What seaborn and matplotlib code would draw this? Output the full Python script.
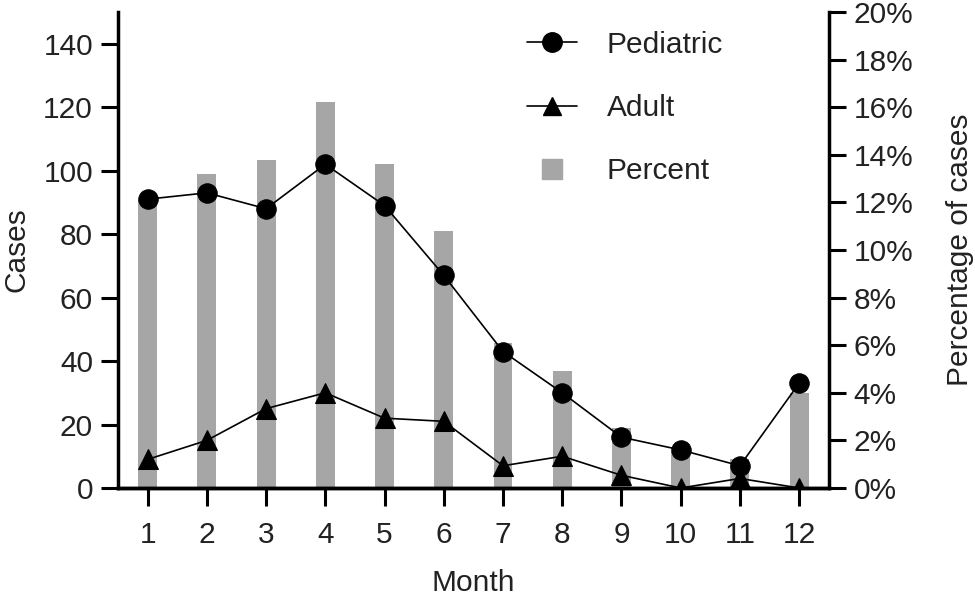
import numpy as np
import pandas as pd
import seaborn as sns
import matplotlib.pyplot as plt
import matplotlib.ticker as tkr
from matplotlib.lines import Line2D

months = [1, 2, 3, 4, 5, 6, 7, 8, 9, 10, 11, 12]
pediatric = [91, 93, 88, 102, 89, 67, 43, 30, 16, 12, 7, 33]
adult = [9, 15, 25, 30, 22, 21, 7, 10, 4, 0, 3, 0]
percent = [12.1, 13.2, 13.8, 16.2, 13.6, 10.8, 6.1, 4.9, 2.5, 1.5, 1.2, 4.0]

sns.set_theme(style='ticks')
plt.rcParams['font.family'] = ['Liberation Sans', 'DejaVu Sans']
txt = '#222222'
bar_color = '#a6a6a6'
fs = 21.5

df = pd.DataFrame({'Month': months, 'Pediatric': pediatric, 'Adult': adult, 'Percent': percent})

fig = plt.figure(figsize=(9.75, 5.97), dpi=100)
ax = fig.add_axes([0.121, 0.1826, 0.729, 0.7974])
ax2 = ax.twinx()

# bars on the right axis, behind the lines
sns.barplot(data=df, x='Month', y='Percent', native_scale=True, color=bar_color,
            width=0.32, saturation=1, ax=ax2, linewidth=0)
ax.set_zorder(ax2.get_zorder() + 1)
ax.patch.set_visible(False)

sns.lineplot(data=df, x='Month', y='Pediatric', ax=ax, color='black', marker='o',
             markersize=14, linewidth=1.2, markeredgecolor='black', label='Pediatric')
sns.lineplot(data=df, x='Month', y='Adult', ax=ax, color='black', marker='^',
             markersize=14, linewidth=1.2, markeredgecolor='black', label='Adult')

ax.set_xlim(0.5, 12.5)
ax.set_ylim(0, 150)
ax.set_yticks(np.arange(0, 141, 20))
ax.set_xticks(months)
ax2.set_ylim(0, 20)
ax2.set_yticks(np.arange(0, 21, 2))
ax2.yaxis.set_major_formatter(tkr.FuncFormatter(lambda x, p: '{:.0f}%'.format(x)))

ax.set_xlabel('Month', fontsize=fs, color=txt, labelpad=14)
ax.set_ylabel('Cases', fontsize=fs, color=txt, labelpad=9)
ax2.set_ylabel('Percentage of cases', fontsize=fs, color=txt, labelpad=23)
ax2.set_xlabel('')

for a in (ax, ax2):
    for s in a.spines.values():
        s.set_linewidth(2.5)
        s.set_color('black')
    a.spines['top'].set_visible(False)
    a.tick_params(axis='both', labelsize=fs, labelcolor=txt, width=2.2, length=12,
                  color='black', pad=6)
ax.spines['right'].set_visible(False)
ax2.spines['left'].set_visible(False)
ax.tick_params(axis='x', length=13, pad=11)

handles = [
    Line2D([], [], color='black', marker='o', markersize=14, linewidth=1.2),
    Line2D([], [], color='black', marker='^', markersize=13, linewidth=1.2),
    Line2D([], [], color=bar_color, marker='s', markersize=14, linestyle='none'),
]
ax.legend(handles, ['Pediatric', 'Adult', 'Percent'], loc='upper left',
          bbox_to_anchor=(0.538, 1.017), frameon=False, fontsize=fs,
          labelcolor=txt, handlelength=1.67, handletextpad=1.0, labelspacing=1.18)

fig.savefig('out.png', dpi=100)
